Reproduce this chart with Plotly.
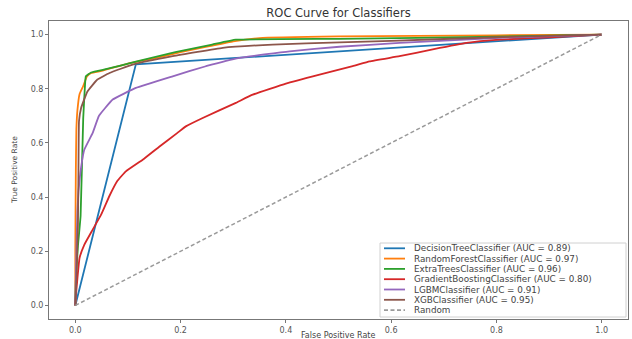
import plotly.graph_objects as go

# ---------------- data ----------------
names = [
    "DecisionTreeClassifier (AUC = 0.89)",
    "RandomForestClassifier (AUC = 0.97)",
    "ExtraTreesClassifier (AUC = 0.96)",
    "GradientBoostingClassifier (AUC = 0.80)",
    "LGBMClassifier (AUC = 0.91)",
    "XGBClassifier (AUC = 0.95)",
]
colors = ["#1f77b4", "#ff7f0e", "#2ca02c", "#d62728", "#9467bd", "#8c564b"]

fpr_dt = [0, 0.115, 1]
tpr_dt = [0, 0.89, 1]

fpr_rf = [0, 0.0, 0.001, 0.002, 0.004, 0.008, 0.015, 0.022, 0.03, 0.05, 0.1, 0.15, 0.2, 0.25, 0.3, 0.35, 0.5, 0.8, 1]
tpr_rf = [0, 0.2, 0.5, 0.65, 0.72, 0.78, 0.81, 0.845, 0.858, 0.866, 0.893, 0.912, 0.935, 0.955, 0.975, 0.987, 0.993, 0.997, 1]

fpr_et = [0, 0.001, 0.005, 0.01, 0.015, 0.018, 0.02, 0.03, 0.06, 0.115, 0.19, 0.26, 0.305, 0.5, 0.8, 1]
tpr_et = [0, 0.09, 0.22, 0.33, 0.69, 0.80, 0.846, 0.86, 0.873, 0.90, 0.935, 0.963, 0.981, 0.984, 0.992, 1]

fpr_gb = [0, 0.0, 0.004, 0.008, 0.017, 0.033, 0.049, 0.065, 0.08, 0.096, 0.128, 0.16, 0.194, 0.21, 0.242,
          0.305, 0.337, 0.4, 0.464, 0.527, 0.559, 0.616, 0.679, 0.743, 0.806, 0.901, 1]
tpr_gb = [0, 0.01, 0.1, 0.175, 0.224, 0.28, 0.335, 0.405, 0.46, 0.495, 0.538, 0.587, 0.637, 0.661, 0.692,
          0.748, 0.778, 0.819, 0.852, 0.883, 0.901, 0.92, 0.945, 0.969, 0.981, 0.99, 1]

fpr_lgbm = [0, 0.002, 0.004, 0.006, 0.011, 0.017, 0.033, 0.045, 0.071, 0.115, 0.185, 0.248, 0.312,
            0.407, 0.502, 0.616, 0.806, 1]
tpr_lgbm = [0, 0.2, 0.35, 0.42, 0.51, 0.575, 0.637, 0.70, 0.76, 0.803, 0.846, 0.883, 0.914,
            0.938, 0.955, 0.969, 0.988, 1]

fpr_xgb = [0, 0.002, 0.005, 0.006, 0.007, 0.011, 0.023, 0.042, 0.065, 0.109, 0.185, 0.28, 0.375, 0.502, 0.6, 0.8, 1]
tpr_xgb = [0, 0.1, 0.3, 0.5, 0.68, 0.729, 0.79, 0.834, 0.858, 0.889, 0.92, 0.951, 0.963, 0.971, 0.977, 0.99, 1]

random_x = [0, 1]
random_y = [0, 1]
random_name = "Random"

tick_vals = [0.0, 0.2, 0.4, 0.6, 0.8, 1.0]
tick_text = ["0.0", "0.2", "0.4", "0.6", "0.8", "1.0"]

title_text = "ROC Curve for Classifiers"
xlabel = "False Positive Rate"
ylabel = "True Positive Rate"

# ---------------- figure ----------------
W, H = 632, 339
L, R, T, B = 49, 4, 21, 20
PW, PH = W - L - R, H - T - B

def px_x(p):
    return (p - L) / PW

def px_y(p):
    return (H - B - p) / PH

curves = [(fpr_dt, tpr_dt), (fpr_rf, tpr_rf), (fpr_et, tpr_et),
          (fpr_gb, tpr_gb), (fpr_lgbm, tpr_lgbm), (fpr_xgb, tpr_xgb)]

fig = go.Figure()
for i, ((fx, ty), nm, c) in enumerate(zip(curves, names, colors)):
    line = dict(color=c, width=1.8)
    if i > 0:  # decision tree ROC is made of straight segments
        line.update(shape="spline", smoothing=0.3)
    fig.add_trace(go.Scatter(x=fx, y=ty, mode="lines", name=nm, line=line,
                             showlegend=False))
fig.add_trace(go.Scatter(x=random_x, y=random_y, mode="lines", name=random_name,
                         line=dict(color="#9a9a9a", width=1.5, dash="4px,2.5px"),
                         showlegend=False))

FONT = "DejaVu Sans"
axis_common = dict(
    range=[-0.05, 1.05], tickvals=tick_vals, ticktext=tick_text,
    showgrid=False, zeroline=False, showline=True, mirror=True,
    linecolor="#777777", linewidth=1, ticks="outside", ticklen=3,
    tickcolor="#777777", tickwidth=1,
    tickfont=dict(family=FONT, size=8, color="#555555"),
)

fig.update_layout(
    width=W, height=H,
    margin=dict(l=L, r=R, t=T, b=B, pad=0),
    paper_bgcolor="white", plot_bgcolor="white",
    xaxis=dict(**axis_common),
    yaxis=dict(**axis_common),
    title=dict(text=title_text, x=(L + PW / 2) / W, xanchor="center",
               y=1 - 13 / H, yanchor="middle",
               font=dict(family=FONT, size=11.5, color="#333333")),
    showlegend=False,
    hovermode=False,
)

annotations = [
    dict(text=xlabel, xref="paper", yref="paper", x=px_x(338), y=px_y(335),
         xanchor="center", yanchor="middle", showarrow=False,
         font=dict(family=FONT, size=8, color="#444444")),
    dict(text=ylabel, xref="paper", yref="paper", x=px_x(14), y=px_y(170),
         xanchor="center", yanchor="middle", showarrow=False, textangle=-90,
         font=dict(family=FONT, size=7.5, color="#444444")),
]

# manual legend (matplotlib-like, lower right)
shapes = [dict(type="rect", xref="paper", yref="paper",
               x0=px_x(380), x1=px_x(626), y0=px_y(317), y1=px_y(243),
               line=dict(color="#d0d0d0", width=1), fillcolor="rgba(255,255,255,0.85)",
               layer="above")]
leg_names = names + [random_name]
leg_colors = colors + ["#9a9a9a"]
for i, (nm, c) in enumerate(zip(leg_names, leg_colors)):
    yy = px_y(248.3 + i * 10.3)
    shapes.append(dict(type="line", xref="paper", yref="paper",
                       x0=px_x(384), x1=px_x(405), y0=yy, y1=yy, layer="above",
                       line=dict(color=c, width=1.8,
                                 dash="4px,2.5px" if nm == random_name else "solid")))
    annotations.append(dict(text=nm, xref="paper", yref="paper", x=px_x(412), y=yy,
                            xanchor="left", yanchor="middle", showarrow=False,
                            font=dict(family=FONT, size=8.8, color="#444444")))

fig.update_layout(shapes=shapes, annotations=annotations)

fig.write_html("out.html", config={"displayModeBar": False})
